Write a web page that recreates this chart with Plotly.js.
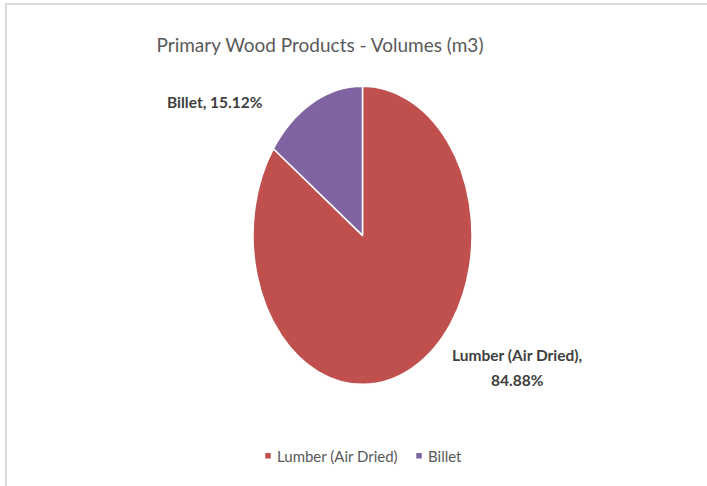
<!DOCTYPE html>
<html>
<head>
<meta charset="utf-8">
<script src="https://cdn.plot.ly/plotly-3.0.1.min.js"></script>
<style>
  html, body { margin: 0; padding: 0; background: #fff; }
  #frame { position: absolute; left: 5px; top: 3px; width: 702px; height: 483px;
           border-top: 2px solid #d9d9d9; border-left: 2px solid #d9d9d9; }
  #plotArea { position: absolute; left: 0; top: 0; }
</style>
</head>
<body>
<div id="frame"></div>
<div id="plotArea"></div>
<script>
var labels = ["Lumber (Air Dried)", "Billet"];
var shares = [84.88, 15.12];
var colors = ["#c0504d", "#8064a2"];

// Excel stretched the pie vertically, so the circle is scaled afterwards
var stretch = 149 / 109.5;

var trace = {
    type: "pie",
    labels: labels,
    values: shares,
    sort: false,
    direction: "clockwise",
    rotation: 0,
    textinfo: "none",
    hoverinfo: "label+percent",
    marker: {colors: colors, line: {color: "#ffffff", width: 1.5}},
    domain: {x: [253 / 707, 472 / 707], y: [1 - 344.5 / 486, 1 - 125.5 / 486]}
};

var labelFont = {family: "Lato, sans-serif", size: 15.5, color: "#404040", weight: "bold"};

function dataLabel(txt, x, y) {
    return {text: txt, x: x / 707, y: 1 - y / 486, xref: "paper", yref: "paper",
            xanchor: "center", yanchor: "middle", showarrow: false, font: labelFont};
}

var layout = {
    width: 707,
    height: 486,
    margin: {l: 0, r: 0, t: 0, b: 0},
    paper_bgcolor: "rgba(0,0,0,0)",
    title: {
        text: "Primary Wood Products - Volumes (m3)",
        font: {family: "Lato, sans-serif", size: 19, color: "#595959"},
        x: 320 / 707, xanchor: "center",
        y: 1 - 45 / 486, yanchor: "middle", yref: "container"
    },
    showlegend: true,
    legend: {
        orientation: "h",
        x: 237 / 707, xanchor: "left",
        y: 1 - 456 / 486, yanchor: "middle",
        font: {family: "Lato, sans-serif", size: 15, color: "#595959"},
        itemwidth: 30,
        entrywidth: 106
    },
    annotations: [
        dataLabel(labels[1] + ", " + shares[1].toFixed(2) + "%", 215, 102),
        dataLabel(labels[0] + ",", 517, 355),
        dataLabel(shares[0].toFixed(2) + "%", 517, 380)
    ]
};

Plotly.newPlot("plotArea", [trace], layout, {displayModeBar: false}).then(function (gd) {
    var cx = 362.5, cy = 234;
    var g = gd.querySelector(".pielayer .trace");
    if (g) {
        g.setAttribute("transform",
            "translate(" + cx + "," + cy + ") scale(1," + stretch + ") translate(" + (-cx) + "," + (-cy) + ")");
        g.querySelectorAll("path").forEach(function (p) {
            p.setAttribute("vector-effect", "non-scaling-stroke");
        });
    }
    // smaller legend swatches sitting close to their text, as in Excel
    gd.querySelectorAll(".legend path.legendpie").forEach(function (p) {
        p.setAttribute("transform", "translate(31,0) scale(0.58)");
        p.setAttribute("vector-effect", "non-scaling-stroke");
    });
});
</script>
</body>
</html>
